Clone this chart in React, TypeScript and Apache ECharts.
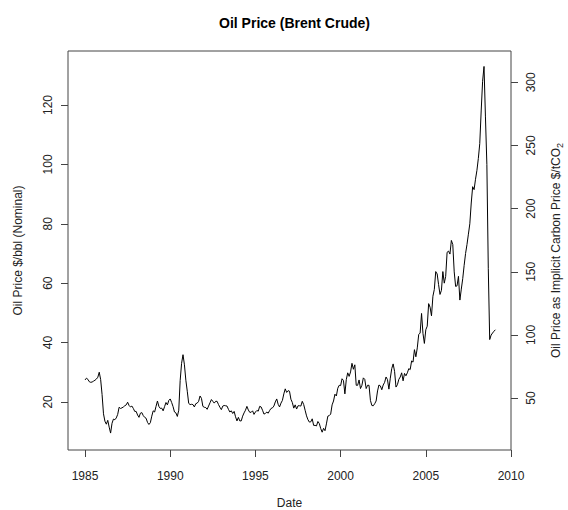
import React, { useEffect, useRef } from "react";
import * as echarts from "echarts";

// Monthly Brent crude price, $/bbl (nominal), starting January 1985
const startYear = 1985;
const brentPrices: number[] = [
  // 1985
  27.4, 28.0, 27.6, 26.8, 26.6, 26.7, 27.0, 27.3, 27.7, 28.3, 30.0, 27.5,
  // 1986
  22.5, 16.0, 13.5, 12.5, 13.8, 11.5, 9.5, 12.8, 14.2, 14.0, 14.6, 15.8,
  // 1987
  18.2, 17.8, 18.0, 18.3, 18.7, 19.0, 19.9, 18.8, 18.3, 18.6, 17.8, 16.8,
  // 1988
  16.8, 15.6, 14.8, 16.2, 16.4, 15.4, 14.8, 14.5, 13.1, 12.4, 13.0, 15.2,
  // 1989
  17.0, 16.6, 18.5, 20.3, 18.5, 17.8, 17.9, 17.0, 18.4, 19.8, 19.0, 20.5,
  // 1990
  21.0, 19.8, 18.4, 16.6, 16.3, 15.1, 17.2, 27.2, 33.0, 35.9, 32.5, 27.3,
  // 1991
  23.6, 19.5, 19.1, 19.2, 19.1, 18.3, 19.4, 19.6, 20.2, 22.0, 21.2, 18.5,
  // 1992
  18.2, 18.1, 17.5, 18.6, 19.7, 20.8, 20.2, 19.6, 20.2, 20.2, 19.1, 18.2,
  // 1993
  17.4, 18.6, 18.8, 18.7, 18.6, 17.5, 16.6, 17.0, 16.1, 16.8, 15.0, 13.6,
  // 1994
  14.8, 13.6, 13.6, 15.2, 16.3, 17.2, 18.5, 17.3, 16.5, 16.5, 17.0, 15.8,
  // 1995
  16.6, 17.1, 16.9, 18.5, 18.3, 17.2, 15.9, 16.1, 16.6, 16.2, 17.1, 17.8,
  // 1996
  18.0, 18.6, 20.0, 21.0, 19.2, 18.3, 19.6, 20.5, 22.7, 24.4, 23.2, 23.8,
  // 1997
  23.6, 20.9, 19.8, 17.9, 19.0, 17.6, 18.7, 18.7, 18.6, 20.2, 19.1, 17.2,
  // 1998
  15.3, 14.0, 13.2, 13.3, 14.3, 12.1, 12.1, 11.9, 13.4, 12.7, 11.0, 9.8,
  // 1999
  11.1, 10.3, 12.6, 15.2, 15.4, 15.9, 19.0, 20.3, 22.6, 22.0, 24.6, 25.6,
  // 2000
  25.5, 27.8, 27.2, 22.7, 27.5, 29.8, 28.6, 30.1, 33.0, 31.0, 32.5, 25.6,
  // 2001
  25.6, 27.4, 24.5, 25.6, 28.1, 27.6, 24.5, 25.6, 25.6, 20.5, 18.8, 18.7,
  // 2002
  19.4, 20.3, 23.7, 25.7, 25.4, 24.1, 25.7, 26.6, 28.4, 27.5, 24.3, 28.0,
  // 2003
  31.2, 32.8, 30.3, 25.0, 25.8, 27.6, 28.4, 29.8, 27.1, 29.6, 28.8, 29.8,
  // 2004
  31.2, 30.9, 33.8, 33.4, 37.6, 35.2, 38.2, 42.7, 43.2, 49.8, 43.1, 39.7,
  // 2005
  44.3, 45.5, 53.1, 51.9, 49.0, 55.6, 57.9, 63.9, 63.1, 59.5, 56.2, 57.6,
  // 2006
  63.9, 60.0, 62.3, 70.4, 70.8, 69.8, 74.4, 73.0, 63.8, 58.9, 59.1, 62.3,
  // 2007
  54.3, 58.0, 61.5, 66.0, 70.0, 73.0, 76.5, 80.0, 87.0, 92.5, 91.5, 95.0,
  // 2008
  98.0, 102.0, 107.0, 118.0, 128.0, 133.0, 116.0, 100.0, 65.0, 41.0, 42.5, 43.2,
  // 2009
  43.8, 44.3,
];

const xTicks = [1985, 1990, 1995, 2000, 2005, 2010];
const leftTicks = [20, 40, 60, 80, 100, 120];
const rightTicks = [50, 100, 150, 200, 250, 300];
const carbonPerBarrel = 2.35; // $/tCO2 per $/bbl

const FONT = "'Liberation Sans', Arial, Helvetica, sans-serif";
const AXIS_COLOR = "#444";
const TEXT_COLOR = "#222";

export default function App() {
  const ref = useRef<HTMLDivElement>(null);

  useEffect(() => {
    if (!ref.current) return;
    const chart = echarts.init(ref.current, undefined, { renderer: "svg" });
    const yMin = 3.8;
    const yMax = 138.2;
    const seriesData = brentPrices.map((v, i) => [startYear + i / 12, v]);
    const fmt = (v: number) => String(v);

    chart.setOption({
      animation: false,
      backgroundColor: "#fff",
      textStyle: { fontFamily: FONT },
      title: {
        text: "Oil Price (Brent Crude)",
        left: 289.5,
        textAlign: "center",
        top: 11,
        textStyle: { fontFamily: FONT, fontSize: 14, fontWeight: "bold", color: "#000" },
      },
      grid: {
        left: 68,
        right: 57,
        top: 51,
        bottom: 60,
        containLabel: false,
        outerBoundsMode: "none",
        show: true,
        borderColor: AXIS_COLOR,
        borderWidth: 1,
        backgroundColor: "transparent",
      },
      xAxis: {
        type: "value",
        min: 1984.0,
        max: 2010.0,
        name: "Date",
        nameLocation: "middle",
        nameGap: 53,
        nameMoveOverlap: false,
        nameTextStyle: { fontFamily: FONT, fontSize: 12, color: TEXT_COLOR, align: "center", verticalAlign: "middle" },
        axisLine: { show: false },
        axisTick: { show: true, length: 7, customValues: xTicks, lineStyle: { color: AXIS_COLOR } },
        axisLabel: {
          customValues: xTicks,
          formatter: fmt,
          margin: 26,
          align: "center",
          verticalAlign: "middle",
          fontFamily: FONT,
          fontSize: 12,
          color: TEXT_COLOR,
        },
        splitLine: { show: false },
      },
      yAxis: [
        {
          type: "value",
          position: "left",
          min: yMin,
          max: yMax,
          name: "Oil Price $/bbl (Nominal)",
          nameLocation: "middle",
          nameRotate: 90,
          nameGap: 50,
          nameMoveOverlap: false,
          nameTextStyle: { fontFamily: FONT, fontSize: 12, color: TEXT_COLOR, align: "center", verticalAlign: "middle" },
          axisLine: { show: false },
          axisTick: { show: true, length: 7, customValues: leftTicks, lineStyle: { color: AXIS_COLOR } },
          axisLabel: {
            customValues: leftTicks,
            formatter: fmt,
            rotate: 90,
            margin: 20.5,
            align: "center",
            verticalAlign: "middle",
            fontFamily: FONT,
            fontSize: 12,
            color: TEXT_COLOR,
          },
          splitLine: { show: false },
        },
        {
          type: "value",
          position: "right",
          min: yMin * carbonPerBarrel,
          max: yMax * carbonPerBarrel,
          name: "{a|Oil Price as Implicit Carbon Price $/tCO}{s|2}",
          nameLocation: "middle",
          nameRotate: 90,
          nameGap: 45,
          nameMoveOverlap: false,
          nameTextStyle: {
            fontFamily: FONT,
            fontSize: 12,
            color: TEXT_COLOR,
            align: "center",
            verticalAlign: "middle",
            rich: {
              a: { fontFamily: FONT, fontSize: 12, color: TEXT_COLOR, lineHeight: 16, verticalAlign: "middle" },
              s: { fontFamily: FONT, fontSize: 9, color: TEXT_COLOR, lineHeight: 16, verticalAlign: "bottom", padding: [8, 0, 0, 0] },
            },
          },
          axisLine: { show: false },
          axisTick: { show: true, length: 7, customValues: rightTicks, lineStyle: { color: AXIS_COLOR } },
          axisLabel: {
            customValues: rightTicks,
            formatter: fmt,
            rotate: 90,
            margin: 20,
            align: "center",
            verticalAlign: "middle",
            fontFamily: FONT,
            fontSize: 12,
            color: TEXT_COLOR,
          },
          splitLine: { show: false },
        },
      ],
      series: [
        {
          type: "line",
          name: "Brent",
          xAxisIndex: 0,
          yAxisIndex: 0,
          data: seriesData,
          showSymbol: false,
          symbol: "none",
          lineStyle: { color: "#000", width: 1 },
          silent: true,
        },
      ],
    });

    return () => {
      chart.dispose();
    };
  }, []);

  return (
    <div
      ref={ref}
      style={{ position: "fixed", left: 0, top: 0, width: 568, height: 510, background: "#fff" }}
    />
  );
}
